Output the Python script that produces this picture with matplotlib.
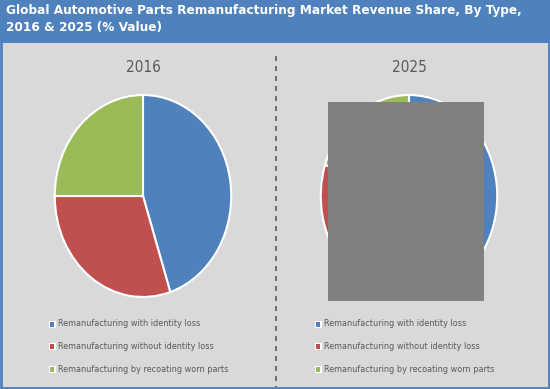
import matplotlib
matplotlib.use("Agg")
import matplotlib.pyplot as plt
from matplotlib.patches import Rectangle
from matplotlib.lines import Line2D

# ----------------------
# Data
# ----------------------
categories = [
    "Remanufacturing with identity loss",
    "Remanufacturing without identity loss",
    "Remanufacturing by recoating worn parts",
]
share_2016 = [45, 30, 25]
share_2025 = [47, 33, 20]
years = ["2016", "2025"]
colors = ["#4F81BD", "#C0504D", "#9BBB59"]

W, H = 550, 389
BG = "#D9D9D9"
TEXT = "#595959"


def fx(px):
    return px / W


def fy(py):
    # pixel y from top -> figure fraction
    return 1 - py / H


fig = plt.figure(figsize=(5.5, 3.89), dpi=100)
fig.patch.set_facecolor(BG)

# title banner
fig.patches.append(Rectangle((0, fy(43)), 1, 43 / H, transform=fig.transFigure,
                             facecolor="#4F81BD", edgecolor="none", zorder=0))
fig.text(fx(6), fy(4),
         "Global Automotive Parts Remanufacturing Market Revenue Share, By Type,\n"
         "2016 & 2025 (% Value)",
         ha="left", va="top", color="white", fontsize=9.7, fontweight="bold",
         family="DejaVu Sans", fontstretch="condensed", linespacing=1.4)

# outer border
fig.patches.append(Rectangle((0.002, 0.003), 0.996, 0.994, transform=fig.transFigure,
                             facecolor="none", edgecolor="#4F81BD", linewidth=2, zorder=5))

# dashed divider
fig.lines.append(Line2D([fx(276), fx(276)], [fy(56), 0], transform=fig.transFigure,
                        color="#595959", linestyle=(0, (3, 3)), linewidth=1.2))

pies = [(share_2016, 143), (share_2025, 409)]
for (vals, cx), year in zip(pies, years):
    ax = fig.add_axes([fx(cx - 90), fy(299), 180 / W, 206 / H])
    ax.pie(vals, colors=colors, startangle=90, counterclock=False,
           wedgeprops=dict(edgecolor="white", linewidth=1.5))
    ax.set_aspect("auto")
    ax.set_xlim(-1.02, 1.02)
    ax.set_ylim(-1.02, 1.02)
    ax.axis("off")
    fig.text(fx(cx), fy(68), year, ha="center", va="center", color=TEXT, fontsize=11,
             fontstretch="condensed")

    # legend
    lx = cx - 91
    for i, (cat, col) in enumerate(zip(categories, colors)):
        y = 324 + i * 22.5
        fig.patches.append(Rectangle((fx(lx - 3), fy(y + 3.5)), 7 / W, 7 / H,
                                     transform=fig.transFigure, facecolor="white",
                                     edgecolor="none"))
        fig.patches.append(Rectangle((fx(lx - 2), fy(y + 2.5)), 4 / W, 5 / H,
                                     transform=fig.transFigure, facecolor=col,
                                     edgecolor="none"))
        fig.text(fx(lx + 6), fy(y), cat, ha="left", va="center", color=TEXT,
                 fontsize=6.5, family="DejaVu Sans", fontstretch="condensed")

# grey block over the 2025 pie
fig.patches.append(Rectangle((fx(328), fy(301)), 156 / W, 199 / H,
                             transform=fig.transFigure, facecolor="#808080",
                             edgecolor="none", zorder=4))

fig.savefig("out.png", dpi=100, facecolor=BG)
